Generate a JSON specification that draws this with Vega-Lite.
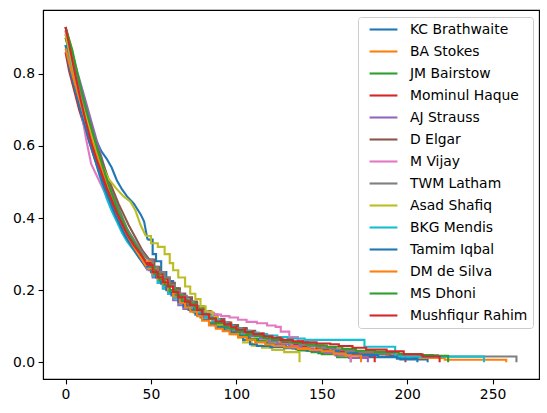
{
  "$schema": "https://vega.github.io/schema/vega-lite/v6.json",
  "width": 496,
  "height": 369,
  "autosize": "none",
  "padding": {"left": 43, "top": 10, "right": 8, "bottom": 34},
  "background": "white",
  "data": {
    "values": [
      {"p":"KC Brathwaite","x":0,"y":0.91},{"p":"KC Brathwaite","x":3,"y":0.86},{"p":"KC Brathwaite","x":6,"y":0.8},{"p":"KC Brathwaite","x":9,"y":0.75},{"p":"KC Brathwaite","x":12,"y":0.7},{"p":"KC Brathwaite","x":15,"y":0.655},{"p":"KC Brathwaite","x":18,"y":0.615},{"p":"KC Brathwaite","x":21,"y":0.585},{"p":"KC Brathwaite","x":24,"y":0.565},{"p":"KC Brathwaite","x":27,"y":0.54},{"p":"KC Brathwaite","x":30,"y":0.505},{"p":"KC Brathwaite","x":33,"y":0.48},{"p":"KC Brathwaite","x":36,"y":0.46},{"p":"KC Brathwaite","x":40,"y":0.44},{"p":"KC Brathwaite","x":44,"y":0.41},{"p":"KC Brathwaite","x":46,"y":0.39},{"p":"KC Brathwaite","x":48,"y":0.34},
      {"p":"KC Brathwaite","x":51,"y":0.3},{"p":"KC Brathwaite","x":53,"y":0.28},{"p":"KC Brathwaite","x":56,"y":0.25},{"p":"KC Brathwaite","x":59,"y":0.225},{"p":"KC Brathwaite","x":63,"y":0.205},{"p":"KC Brathwaite","x":66,"y":0.19},{"p":"KC Brathwaite","x":70,"y":0.175},{"p":"KC Brathwaite","x":73,"y":0.165},{"p":"KC Brathwaite","x":77,"y":0.15},{"p":"KC Brathwaite","x":81,"y":0.135},{"p":"KC Brathwaite","x":84,"y":0.12},{"p":"KC Brathwaite","x":88,"y":0.105},{"p":"KC Brathwaite","x":93,"y":0.095},{"p":"KC Brathwaite","x":97,"y":0.085},{"p":"KC Brathwaite","x":102,"y":0.075},{"p":"KC Brathwaite","x":107,"y":0.065},{"p":"KC Brathwaite","x":113,"y":0.058},{"p":"KC Brathwaite","x":118,"y":0.05},{"p":"KC Brathwaite","x":126,"y":0.043},{"p":"KC Brathwaite","x":133,"y":0.038},{"p":"KC Brathwaite","x":141,"y":0.032},{"p":"KC Brathwaite","x":148,"y":0.025},{"p":"KC Brathwaite","x":163,"y":0.02},{"p":"KC Brathwaite","x":178,"y":0.014},{"p":"KC Brathwaite","x":196,"y":0.008},{"p":"KC Brathwaite","x":212,"y":0},

      {"p":"BA Stokes","x":0,"y":0.92},{"p":"BA Stokes","x":2,"y":0.85},{"p":"BA Stokes","x":5,"y":0.79},{"p":"BA Stokes","x":8,"y":0.73},{"p":"BA Stokes","x":11,"y":0.68},{"p":"BA Stokes","x":14,"y":0.63},{"p":"BA Stokes","x":17,"y":0.585},{"p":"BA Stokes","x":20,"y":0.545},{"p":"BA Stokes","x":23,"y":0.505},{"p":"BA Stokes","x":26,"y":0.47},{"p":"BA Stokes","x":29,"y":0.44},{"p":"BA Stokes","x":32,"y":0.405},{"p":"BA Stokes","x":35,"y":0.375},{"p":"BA Stokes","x":39,"y":0.34},{"p":"BA Stokes","x":43,"y":0.305},{"p":"BA Stokes","x":47,"y":0.28},
      {"p":"BA Stokes","x":50,"y":0.26},{"p":"BA Stokes","x":54,"y":0.24},{"p":"BA Stokes","x":57,"y":0.225},{"p":"BA Stokes","x":60,"y":0.21},{"p":"BA Stokes","x":63,"y":0.19},{"p":"BA Stokes","x":66,"y":0.175},{"p":"BA Stokes","x":70,"y":0.165},{"p":"BA Stokes","x":74,"y":0.15},{"p":"BA Stokes","x":78,"y":0.135},{"p":"BA Stokes","x":83,"y":0.125},{"p":"BA Stokes","x":87,"y":0.115},{"p":"BA Stokes","x":92,"y":0.105},{"p":"BA Stokes","x":96,"y":0.098},{"p":"BA Stokes","x":101,"y":0.09},{"p":"BA Stokes","x":104,"y":0.082},{"p":"BA Stokes","x":109,"y":0.075},{"p":"BA Stokes","x":114,"y":0.068},{"p":"BA Stokes","x":118,"y":0.06},{"p":"BA Stokes","x":124,"y":0.055},{"p":"BA Stokes","x":131,"y":0.05},{"p":"BA Stokes","x":137,"y":0.042},{"p":"BA Stokes","x":143,"y":0.037},{"p":"BA Stokes","x":152,"y":0.033},{"p":"BA Stokes","x":158,"y":0.03},{"p":"BA Stokes","x":168,"y":0.026},{"p":"BA Stokes","x":176,"y":0.022},{"p":"BA Stokes","x":188,"y":0.018},{"p":"BA Stokes","x":203,"y":0.012},{"p":"BA Stokes","x":222,"y":0.007},{"p":"BA Stokes","x":258,"y":0},

      {"p":"JM Bairstow","x":0,"y":0.9},{"p":"JM Bairstow","x":3,"y":0.845},{"p":"JM Bairstow","x":6,"y":0.79},{"p":"JM Bairstow","x":9,"y":0.74},{"p":"JM Bairstow","x":12,"y":0.69},{"p":"JM Bairstow","x":15,"y":0.64},{"p":"JM Bairstow","x":18,"y":0.6},{"p":"JM Bairstow","x":21,"y":0.555},{"p":"JM Bairstow","x":24,"y":0.515},{"p":"JM Bairstow","x":27,"y":0.475},{"p":"JM Bairstow","x":30,"y":0.44},{"p":"JM Bairstow","x":33,"y":0.405},{"p":"JM Bairstow","x":36,"y":0.37},{"p":"JM Bairstow","x":40,"y":0.335},{"p":"JM Bairstow","x":44,"y":0.295},{"p":"JM Bairstow","x":48,"y":0.26},
      {"p":"JM Bairstow","x":51,"y":0.24},{"p":"JM Bairstow","x":55,"y":0.22},{"p":"JM Bairstow","x":58,"y":0.205},{"p":"JM Bairstow","x":61,"y":0.195},{"p":"JM Bairstow","x":65,"y":0.18},{"p":"JM Bairstow","x":68,"y":0.165},{"p":"JM Bairstow","x":71,"y":0.152},{"p":"JM Bairstow","x":75,"y":0.138},{"p":"JM Bairstow","x":79,"y":0.124},{"p":"JM Bairstow","x":84,"y":0.11},{"p":"JM Bairstow","x":88,"y":0.1},{"p":"JM Bairstow","x":93,"y":0.09},{"p":"JM Bairstow","x":97,"y":0.082},{"p":"JM Bairstow","x":102,"y":0.074},{"p":"JM Bairstow","x":108,"y":0.065},{"p":"JM Bairstow","x":112,"y":0.058},{"p":"JM Bairstow","x":117,"y":0.052},{"p":"JM Bairstow","x":122,"y":0.047},{"p":"JM Bairstow","x":129,"y":0.04},{"p":"JM Bairstow","x":136,"y":0.033},{"p":"JM Bairstow","x":144,"y":0.028},{"p":"JM Bairstow","x":150,"y":0.022},{"p":"JM Bairstow","x":159,"y":0.014},{"p":"JM Bairstow","x":167,"y":0},

      {"p":"Mominul Haque","x":0,"y":0.86},{"p":"Mominul Haque","x":2,"y":0.81},{"p":"Mominul Haque","x":5,"y":0.755},{"p":"Mominul Haque","x":8,"y":0.7},{"p":"Mominul Haque","x":11,"y":0.655},{"p":"Mominul Haque","x":14,"y":0.61},{"p":"Mominul Haque","x":17,"y":0.565},{"p":"Mominul Haque","x":20,"y":0.525},{"p":"Mominul Haque","x":23,"y":0.49},{"p":"Mominul Haque","x":26,"y":0.455},{"p":"Mominul Haque","x":29,"y":0.42},{"p":"Mominul Haque","x":32,"y":0.39},{"p":"Mominul Haque","x":35,"y":0.36},{"p":"Mominul Haque","x":39,"y":0.33},{"p":"Mominul Haque","x":43,"y":0.3},{"p":"Mominul Haque","x":47,"y":0.275},
      {"p":"Mominul Haque","x":50,"y":0.255},{"p":"Mominul Haque","x":53,"y":0.245},{"p":"Mominul Haque","x":57,"y":0.232},{"p":"Mominul Haque","x":60,"y":0.215},{"p":"Mominul Haque","x":63,"y":0.195},{"p":"Mominul Haque","x":66,"y":0.178},{"p":"Mominul Haque","x":70,"y":0.16},{"p":"Mominul Haque","x":73,"y":0.152},{"p":"Mominul Haque","x":77,"y":0.145},{"p":"Mominul Haque","x":80,"y":0.135},{"p":"Mominul Haque","x":83,"y":0.127},{"p":"Mominul Haque","x":88,"y":0.118},{"p":"Mominul Haque","x":92,"y":0.11},{"p":"Mominul Haque","x":96,"y":0.1},{"p":"Mominul Haque","x":100,"y":0.093},{"p":"Mominul Haque","x":106,"y":0.085},{"p":"Mominul Haque","x":111,"y":0.077},{"p":"Mominul Haque","x":115,"y":0.07},{"p":"Mominul Haque","x":121,"y":0.063},{"p":"Mominul Haque","x":127,"y":0.056},{"p":"Mominul Haque","x":134,"y":0.05},{"p":"Mominul Haque","x":139,"y":0.045},{"p":"Mominul Haque","x":147,"y":0.037},{"p":"Mominul Haque","x":155,"y":0.03},{"p":"Mominul Haque","x":163,"y":0.024},{"p":"Mominul Haque","x":172,"y":0.018},{"p":"Mominul Haque","x":181,"y":0},

      {"p":"AJ Strauss","x":0,"y":0.93},{"p":"AJ Strauss","x":3,"y":0.875},{"p":"AJ Strauss","x":6,"y":0.82},{"p":"AJ Strauss","x":9,"y":0.77},{"p":"AJ Strauss","x":12,"y":0.72},{"p":"AJ Strauss","x":15,"y":0.67},{"p":"AJ Strauss","x":18,"y":0.62},{"p":"AJ Strauss","x":21,"y":0.57},{"p":"AJ Strauss","x":24,"y":0.52},{"p":"AJ Strauss","x":27,"y":0.475},{"p":"AJ Strauss","x":30,"y":0.43},{"p":"AJ Strauss","x":33,"y":0.395},{"p":"AJ Strauss","x":36,"y":0.36},{"p":"AJ Strauss","x":40,"y":0.32},{"p":"AJ Strauss","x":44,"y":0.285},{"p":"AJ Strauss","x":48,"y":0.255},
      {"p":"AJ Strauss","x":51,"y":0.235},{"p":"AJ Strauss","x":54,"y":0.22},{"p":"AJ Strauss","x":57,"y":0.205},{"p":"AJ Strauss","x":60,"y":0.19},{"p":"AJ Strauss","x":63,"y":0.172},{"p":"AJ Strauss","x":66,"y":0.158},{"p":"AJ Strauss","x":69,"y":0.148},{"p":"AJ Strauss","x":73,"y":0.142},{"p":"AJ Strauss","x":77,"y":0.135},{"p":"AJ Strauss","x":81,"y":0.125},{"p":"AJ Strauss","x":86,"y":0.115},{"p":"AJ Strauss","x":89,"y":0.108},{"p":"AJ Strauss","x":93,"y":0.1},{"p":"AJ Strauss","x":98,"y":0.09},{"p":"AJ Strauss","x":103,"y":0.082},{"p":"AJ Strauss","x":108,"y":0.073},{"p":"AJ Strauss","x":114,"y":0.065},{"p":"AJ Strauss","x":119,"y":0.057},{"p":"AJ Strauss","x":124,"y":0.05},{"p":"AJ Strauss","x":131,"y":0.044},{"p":"AJ Strauss","x":138,"y":0.037},{"p":"AJ Strauss","x":145,"y":0.031},{"p":"AJ Strauss","x":152,"y":0.026},{"p":"AJ Strauss","x":158,"y":0.019},{"p":"AJ Strauss","x":166,"y":0.012},{"p":"AJ Strauss","x":177,"y":0},

      {"p":"D Elgar","x":0,"y":0.9},{"p":"D Elgar","x":4,"y":0.845},{"p":"D Elgar","x":7,"y":0.79},{"p":"D Elgar","x":10,"y":0.735},{"p":"D Elgar","x":13,"y":0.685},{"p":"D Elgar","x":16,"y":0.635},{"p":"D Elgar","x":19,"y":0.59},{"p":"D Elgar","x":22,"y":0.55},{"p":"D Elgar","x":25,"y":0.51},{"p":"D Elgar","x":28,"y":0.475},{"p":"D Elgar","x":31,"y":0.44},{"p":"D Elgar","x":34,"y":0.41},{"p":"D Elgar","x":37,"y":0.38},{"p":"D Elgar","x":41,"y":0.345},{"p":"D Elgar","x":45,"y":0.31},{"p":"D Elgar","x":49,"y":0.285},
      {"p":"D Elgar","x":52,"y":0.265},{"p":"D Elgar","x":55,"y":0.248},{"p":"D Elgar","x":58,"y":0.235},{"p":"D Elgar","x":61,"y":0.22},{"p":"D Elgar","x":64,"y":0.205},{"p":"D Elgar","x":67,"y":0.19},{"p":"D Elgar","x":70,"y":0.18},{"p":"D Elgar","x":74,"y":0.168},{"p":"D Elgar","x":77,"y":0.155},{"p":"D Elgar","x":81,"y":0.142},{"p":"D Elgar","x":85,"y":0.132},{"p":"D Elgar","x":89,"y":0.12},{"p":"D Elgar","x":93,"y":0.11},{"p":"D Elgar","x":97,"y":0.103},{"p":"D Elgar","x":101,"y":0.095},{"p":"D Elgar","x":106,"y":0.087},{"p":"D Elgar","x":111,"y":0.08},{"p":"D Elgar","x":116,"y":0.073},{"p":"D Elgar","x":121,"y":0.067},{"p":"D Elgar","x":127,"y":0.06},{"p":"D Elgar","x":133,"y":0.056},{"p":"D Elgar","x":138,"y":0.05},{"p":"D Elgar","x":143,"y":0.046},{"p":"D Elgar","x":151,"y":0.04},{"p":"D Elgar","x":158,"y":0.035},{"p":"D Elgar","x":166,"y":0.03},{"p":"D Elgar","x":173,"y":0.026},{"p":"D Elgar","x":182,"y":0.022},{"p":"D Elgar","x":190,"y":0.018},{"p":"D Elgar","x":199,"y":0},

      {"p":"M Vijay","x":0,"y":0.92},{"p":"M Vijay","x":3,"y":0.84},{"p":"M Vijay","x":6,"y":0.77},{"p":"M Vijay","x":9,"y":0.7},{"p":"M Vijay","x":12,"y":0.62},{"p":"M Vijay","x":15,"y":0.55},{"p":"M Vijay","x":18,"y":0.52},{"p":"M Vijay","x":21,"y":0.49},{"p":"M Vijay","x":24,"y":0.46},{"p":"M Vijay","x":27,"y":0.43},{"p":"M Vijay","x":30,"y":0.4},{"p":"M Vijay","x":33,"y":0.37},{"p":"M Vijay","x":36,"y":0.345},{"p":"M Vijay","x":40,"y":0.315},{"p":"M Vijay","x":44,"y":0.29},{"p":"M Vijay","x":48,"y":0.265},
      {"p":"M Vijay","x":51,"y":0.248},{"p":"M Vijay","x":55,"y":0.228},{"p":"M Vijay","x":58,"y":0.212},{"p":"M Vijay","x":61,"y":0.2},{"p":"M Vijay","x":65,"y":0.188},{"p":"M Vijay","x":68,"y":0.175},{"p":"M Vijay","x":72,"y":0.16},{"p":"M Vijay","x":76,"y":0.15},{"p":"M Vijay","x":79,"y":0.142},{"p":"M Vijay","x":83,"y":0.137},{"p":"M Vijay","x":87,"y":0.132},{"p":"M Vijay","x":91,"y":0.128},{"p":"M Vijay","x":96,"y":0.124},{"p":"M Vijay","x":101,"y":0.118},{"p":"M Vijay","x":106,"y":0.112},{"p":"M Vijay","x":112,"y":0.108},{"p":"M Vijay","x":118,"y":0.102},{"p":"M Vijay","x":123,"y":0.098},{"p":"M Vijay","x":126,"y":0.085},{"p":"M Vijay","x":131,"y":0.07},{"p":"M Vijay","x":136,"y":0.06},{"p":"M Vijay","x":142,"y":0.05},{"p":"M Vijay","x":148,"y":0.042},{"p":"M Vijay","x":155,"y":0.03},{"p":"M Vijay","x":160,"y":0.022},{"p":"M Vijay","x":167,"y":0},

      {"p":"TWM Latham","x":0,"y":0.93},{"p":"TWM Latham","x":3,"y":0.87},{"p":"TWM Latham","x":6,"y":0.8},{"p":"TWM Latham","x":9,"y":0.745},{"p":"TWM Latham","x":12,"y":0.69},{"p":"TWM Latham","x":15,"y":0.64},{"p":"TWM Latham","x":18,"y":0.595},{"p":"TWM Latham","x":21,"y":0.55},{"p":"TWM Latham","x":24,"y":0.51},{"p":"TWM Latham","x":27,"y":0.47},{"p":"TWM Latham","x":30,"y":0.435},{"p":"TWM Latham","x":33,"y":0.4},{"p":"TWM Latham","x":36,"y":0.37},{"p":"TWM Latham","x":40,"y":0.34},{"p":"TWM Latham","x":44,"y":0.31},{"p":"TWM Latham","x":48,"y":0.285},
      {"p":"TWM Latham","x":51,"y":0.265},{"p":"TWM Latham","x":54,"y":0.25},{"p":"TWM Latham","x":58,"y":0.235},{"p":"TWM Latham","x":61,"y":0.215},{"p":"TWM Latham","x":64,"y":0.198},{"p":"TWM Latham","x":67,"y":0.184},{"p":"TWM Latham","x":71,"y":0.168},{"p":"TWM Latham","x":75,"y":0.155},{"p":"TWM Latham","x":78,"y":0.142},{"p":"TWM Latham","x":82,"y":0.13},{"p":"TWM Latham","x":86,"y":0.12},{"p":"TWM Latham","x":90,"y":0.11},{"p":"TWM Latham","x":95,"y":0.1},{"p":"TWM Latham","x":99,"y":0.092},{"p":"TWM Latham","x":104,"y":0.085},{"p":"TWM Latham","x":109,"y":0.077},{"p":"TWM Latham","x":114,"y":0.07},{"p":"TWM Latham","x":120,"y":0.065},{"p":"TWM Latham","x":126,"y":0.059},{"p":"TWM Latham","x":131,"y":0.054},{"p":"TWM Latham","x":137,"y":0.048},{"p":"TWM Latham","x":142,"y":0.044},{"p":"TWM Latham","x":149,"y":0.039},{"p":"TWM Latham","x":156,"y":0.035},{"p":"TWM Latham","x":164,"y":0.031},{"p":"TWM Latham","x":172,"y":0.027},{"p":"TWM Latham","x":181,"y":0.024},{"p":"TWM Latham","x":193,"y":0.021},{"p":"TWM Latham","x":205,"y":0.019},{"p":"TWM Latham","x":218,"y":0.016},{"p":"TWM Latham","x":264,"y":0},

      {"p":"Asad Shafiq","x":0,"y":0.91},{"p":"Asad Shafiq","x":5,"y":0.8},{"p":"Asad Shafiq","x":10,"y":0.71},{"p":"Asad Shafiq","x":15,"y":0.63},{"p":"Asad Shafiq","x":20,"y":0.56},{"p":"Asad Shafiq","x":25,"y":0.51},{"p":"Asad Shafiq","x":30,"y":0.48},{"p":"Asad Shafiq","x":34,"y":0.46},{"p":"Asad Shafiq","x":38,"y":0.445},{"p":"Asad Shafiq","x":41,"y":0.42},{"p":"Asad Shafiq","x":44,"y":0.38},{"p":"Asad Shafiq","x":47,"y":0.35},
      {"p":"Asad Shafiq","x":50,"y":0.33},{"p":"Asad Shafiq","x":54,"y":0.32},{"p":"Asad Shafiq","x":58,"y":0.3},{"p":"Asad Shafiq","x":61,"y":0.275},{"p":"Asad Shafiq","x":63,"y":0.255},{"p":"Asad Shafiq","x":66,"y":0.235},{"p":"Asad Shafiq","x":70,"y":0.21},{"p":"Asad Shafiq","x":73,"y":0.19},{"p":"Asad Shafiq","x":76,"y":0.175},{"p":"Asad Shafiq","x":79,"y":0.155},{"p":"Asad Shafiq","x":82,"y":0.14},{"p":"Asad Shafiq","x":86,"y":0.125},{"p":"Asad Shafiq","x":89,"y":0.105},{"p":"Asad Shafiq","x":93,"y":0.09},{"p":"Asad Shafiq","x":97,"y":0.078},{"p":"Asad Shafiq","x":101,"y":0.068},{"p":"Asad Shafiq","x":104,"y":0.055},{"p":"Asad Shafiq","x":109,"y":0.046},{"p":"Asad Shafiq","x":115,"y":0.04},{"p":"Asad Shafiq","x":121,"y":0.034},{"p":"Asad Shafiq","x":128,"y":0.028},{"p":"Asad Shafiq","x":137,"y":0},

      {"p":"BKG Mendis","x":0,"y":0.88},{"p":"BKG Mendis","x":3,"y":0.82},{"p":"BKG Mendis","x":6,"y":0.76},{"p":"BKG Mendis","x":9,"y":0.7},{"p":"BKG Mendis","x":12,"y":0.65},{"p":"BKG Mendis","x":15,"y":0.6},{"p":"BKG Mendis","x":18,"y":0.55},{"p":"BKG Mendis","x":21,"y":0.5},{"p":"BKG Mendis","x":24,"y":0.455},{"p":"BKG Mendis","x":27,"y":0.42},{"p":"BKG Mendis","x":30,"y":0.39},{"p":"BKG Mendis","x":33,"y":0.36},{"p":"BKG Mendis","x":36,"y":0.335},{"p":"BKG Mendis","x":40,"y":0.31},{"p":"BKG Mendis","x":44,"y":0.285},{"p":"BKG Mendis","x":48,"y":0.26},
      {"p":"BKG Mendis","x":51,"y":0.24},{"p":"BKG Mendis","x":54,"y":0.22},{"p":"BKG Mendis","x":57,"y":0.205},{"p":"BKG Mendis","x":60,"y":0.19},{"p":"BKG Mendis","x":63,"y":0.178},{"p":"BKG Mendis","x":67,"y":0.163},{"p":"BKG Mendis","x":70,"y":0.153},{"p":"BKG Mendis","x":74,"y":0.145},{"p":"BKG Mendis","x":78,"y":0.135},{"p":"BKG Mendis","x":82,"y":0.126},{"p":"BKG Mendis","x":86,"y":0.118},{"p":"BKG Mendis","x":90,"y":0.11},{"p":"BKG Mendis","x":94,"y":0.102},{"p":"BKG Mendis","x":98,"y":0.094},{"p":"BKG Mendis","x":103,"y":0.087},{"p":"BKG Mendis","x":108,"y":0.082},{"p":"BKG Mendis","x":113,"y":0.078},{"p":"BKG Mendis","x":118,"y":0.074},{"p":"BKG Mendis","x":124,"y":0.07},{"p":"BKG Mendis","x":130,"y":0.066},{"p":"BKG Mendis","x":140,"y":0.062},{"p":"BKG Mendis","x":175,"y":0.043},{"p":"BKG Mendis","x":193,"y":0.0155},{"p":"BKG Mendis","x":245,"y":0},

      {"p":"Tamim Iqbal","x":0,"y":0.88},{"p":"Tamim Iqbal","x":2,"y":0.82},{"p":"Tamim Iqbal","x":5,"y":0.765},{"p":"Tamim Iqbal","x":8,"y":0.71},{"p":"Tamim Iqbal","x":11,"y":0.66},{"p":"Tamim Iqbal","x":14,"y":0.61},{"p":"Tamim Iqbal","x":17,"y":0.565},{"p":"Tamim Iqbal","x":20,"y":0.52},{"p":"Tamim Iqbal","x":23,"y":0.48},{"p":"Tamim Iqbal","x":26,"y":0.445},{"p":"Tamim Iqbal","x":29,"y":0.41},{"p":"Tamim Iqbal","x":32,"y":0.38},{"p":"Tamim Iqbal","x":35,"y":0.35},{"p":"Tamim Iqbal","x":39,"y":0.32},{"p":"Tamim Iqbal","x":43,"y":0.29},{"p":"Tamim Iqbal","x":47,"y":0.265},
      {"p":"Tamim Iqbal","x":50,"y":0.25},{"p":"Tamim Iqbal","x":53,"y":0.235},{"p":"Tamim Iqbal","x":56,"y":0.218},{"p":"Tamim Iqbal","x":59,"y":0.2},{"p":"Tamim Iqbal","x":62,"y":0.185},{"p":"Tamim Iqbal","x":66,"y":0.168},{"p":"Tamim Iqbal","x":69,"y":0.155},{"p":"Tamim Iqbal","x":72,"y":0.145},{"p":"Tamim Iqbal","x":76,"y":0.132},{"p":"Tamim Iqbal","x":80,"y":0.118},{"p":"Tamim Iqbal","x":84,"y":0.105},{"p":"Tamim Iqbal","x":88,"y":0.097},{"p":"Tamim Iqbal","x":93,"y":0.088},{"p":"Tamim Iqbal","x":97,"y":0.08},{"p":"Tamim Iqbal","x":101,"y":0.072},{"p":"Tamim Iqbal","x":104,"y":0.062},{"p":"Tamim Iqbal","x":108,"y":0.05},{"p":"Tamim Iqbal","x":112,"y":0.045},{"p":"Tamim Iqbal","x":120,"y":0.042},{"p":"Tamim Iqbal","x":128,"y":0.039},{"p":"Tamim Iqbal","x":135,"y":0.036},{"p":"Tamim Iqbal","x":142,"y":0.033},{"p":"Tamim Iqbal","x":151,"y":0.03},{"p":"Tamim Iqbal","x":160,"y":0.025},{"p":"Tamim Iqbal","x":171,"y":0.02},{"p":"Tamim Iqbal","x":183,"y":0.015},{"p":"Tamim Iqbal","x":194,"y":0.01},{"p":"Tamim Iqbal","x":206,"y":0},

      {"p":"DM de Silva","x":0,"y":0.87},{"p":"DM de Silva","x":3,"y":0.815},{"p":"DM de Silva","x":6,"y":0.765},{"p":"DM de Silva","x":9,"y":0.715},{"p":"DM de Silva","x":12,"y":0.665},{"p":"DM de Silva","x":15,"y":0.62},{"p":"DM de Silva","x":18,"y":0.575},{"p":"DM de Silva","x":21,"y":0.535},{"p":"DM de Silva","x":24,"y":0.495},{"p":"DM de Silva","x":27,"y":0.455},{"p":"DM de Silva","x":30,"y":0.42},{"p":"DM de Silva","x":33,"y":0.385},{"p":"DM de Silva","x":36,"y":0.355},{"p":"DM de Silva","x":40,"y":0.32},{"p":"DM de Silva","x":44,"y":0.29},{"p":"DM de Silva","x":48,"y":0.26},
      {"p":"DM de Silva","x":51,"y":0.245},{"p":"DM de Silva","x":54,"y":0.232},{"p":"DM de Silva","x":57,"y":0.218},{"p":"DM de Silva","x":60,"y":0.2},{"p":"DM de Silva","x":63,"y":0.183},{"p":"DM de Silva","x":67,"y":0.165},{"p":"DM de Silva","x":70,"y":0.152},{"p":"DM de Silva","x":73,"y":0.14},{"p":"DM de Silva","x":77,"y":0.128},{"p":"DM de Silva","x":80,"y":0.115},{"p":"DM de Silva","x":84,"y":0.102},{"p":"DM de Silva","x":88,"y":0.093},{"p":"DM de Silva","x":92,"y":0.086},{"p":"DM de Silva","x":96,"y":0.078},{"p":"DM de Silva","x":101,"y":0.07},{"p":"DM de Silva","x":106,"y":0.062},{"p":"DM de Silva","x":111,"y":0.055},{"p":"DM de Silva","x":117,"y":0.049},{"p":"DM de Silva","x":122,"y":0.045},{"p":"DM de Silva","x":128,"y":0.041},{"p":"DM de Silva","x":136,"y":0.037},{"p":"DM de Silva","x":143,"y":0.034},{"p":"DM de Silva","x":150,"y":0.03},{"p":"DM de Silva","x":157,"y":0.024},{"p":"DM de Silva","x":164,"y":0.018},{"p":"DM de Silva","x":173,"y":0},

      {"p":"MS Dhoni","x":0,"y":0.93},{"p":"MS Dhoni","x":4,"y":0.865},{"p":"MS Dhoni","x":7,"y":0.8},{"p":"MS Dhoni","x":10,"y":0.74},{"p":"MS Dhoni","x":13,"y":0.685},{"p":"MS Dhoni","x":16,"y":0.635},{"p":"MS Dhoni","x":19,"y":0.585},{"p":"MS Dhoni","x":22,"y":0.54},{"p":"MS Dhoni","x":25,"y":0.495},{"p":"MS Dhoni","x":28,"y":0.455},{"p":"MS Dhoni","x":31,"y":0.415},{"p":"MS Dhoni","x":34,"y":0.385},{"p":"MS Dhoni","x":37,"y":0.355},{"p":"MS Dhoni","x":41,"y":0.325},{"p":"MS Dhoni","x":45,"y":0.295},{"p":"MS Dhoni","x":49,"y":0.265},
      {"p":"MS Dhoni","x":52,"y":0.245},{"p":"MS Dhoni","x":55,"y":0.228},{"p":"MS Dhoni","x":58,"y":0.215},{"p":"MS Dhoni","x":61,"y":0.2},{"p":"MS Dhoni","x":65,"y":0.185},{"p":"MS Dhoni","x":68,"y":0.172},{"p":"MS Dhoni","x":72,"y":0.162},{"p":"MS Dhoni","x":76,"y":0.148},{"p":"MS Dhoni","x":80,"y":0.133},{"p":"MS Dhoni","x":84,"y":0.12},{"p":"MS Dhoni","x":88,"y":0.108},{"p":"MS Dhoni","x":93,"y":0.1},{"p":"MS Dhoni","x":97,"y":0.093},{"p":"MS Dhoni","x":101,"y":0.085},{"p":"MS Dhoni","x":106,"y":0.078},{"p":"MS Dhoni","x":111,"y":0.072},{"p":"MS Dhoni","x":116,"y":0.067},{"p":"MS Dhoni","x":121,"y":0.062},{"p":"MS Dhoni","x":127,"y":0.058},{"p":"MS Dhoni","x":133,"y":0.054},{"p":"MS Dhoni","x":141,"y":0.05},{"p":"MS Dhoni","x":147,"y":0.046},{"p":"MS Dhoni","x":153,"y":0.043},{"p":"MS Dhoni","x":162,"y":0.037},{"p":"MS Dhoni","x":170,"y":0.032},{"p":"MS Dhoni","x":181,"y":0.028},{"p":"MS Dhoni","x":195,"y":0.023},{"p":"MS Dhoni","x":208,"y":0.02},{"p":"MS Dhoni","x":215,"y":0.018},{"p":"MS Dhoni","x":224,"y":0},

      {"p":"Mushfiqur Rahim","x":0,"y":0.93},{"p":"Mushfiqur Rahim","x":3,"y":0.86},{"p":"Mushfiqur Rahim","x":6,"y":0.79},{"p":"Mushfiqur Rahim","x":9,"y":0.725},{"p":"Mushfiqur Rahim","x":12,"y":0.665},{"p":"Mushfiqur Rahim","x":15,"y":0.61},{"p":"Mushfiqur Rahim","x":18,"y":0.565},{"p":"Mushfiqur Rahim","x":21,"y":0.525},{"p":"Mushfiqur Rahim","x":24,"y":0.485},{"p":"Mushfiqur Rahim","x":27,"y":0.45},{"p":"Mushfiqur Rahim","x":30,"y":0.415},{"p":"Mushfiqur Rahim","x":33,"y":0.385},{"p":"Mushfiqur Rahim","x":36,"y":0.355},{"p":"Mushfiqur Rahim","x":40,"y":0.325},{"p":"Mushfiqur Rahim","x":44,"y":0.3},{"p":"Mushfiqur Rahim","x":48,"y":0.27},
      {"p":"Mushfiqur Rahim","x":51,"y":0.25},{"p":"Mushfiqur Rahim","x":54,"y":0.235},{"p":"Mushfiqur Rahim","x":57,"y":0.222},{"p":"Mushfiqur Rahim","x":60,"y":0.21},{"p":"Mushfiqur Rahim","x":63,"y":0.195},{"p":"Mushfiqur Rahim","x":66,"y":0.18},{"p":"Mushfiqur Rahim","x":70,"y":0.168},{"p":"Mushfiqur Rahim","x":73,"y":0.158},{"p":"Mushfiqur Rahim","x":77,"y":0.145},{"p":"Mushfiqur Rahim","x":80,"y":0.133},{"p":"Mushfiqur Rahim","x":84,"y":0.122},{"p":"Mushfiqur Rahim","x":88,"y":0.113},{"p":"Mushfiqur Rahim","x":93,"y":0.105},{"p":"Mushfiqur Rahim","x":97,"y":0.097},{"p":"Mushfiqur Rahim","x":100,"y":0.09},{"p":"Mushfiqur Rahim","x":105,"y":0.084},{"p":"Mushfiqur Rahim","x":110,"y":0.078},{"p":"Mushfiqur Rahim","x":116,"y":0.072},{"p":"Mushfiqur Rahim","x":121,"y":0.068},{"p":"Mushfiqur Rahim","x":126,"y":0.062},{"p":"Mushfiqur Rahim","x":133,"y":0.058},{"p":"Mushfiqur Rahim","x":139,"y":0.055},{"p":"Mushfiqur Rahim","x":147,"y":0.052},{"p":"Mushfiqur Rahim","x":155,"y":0.05},{"p":"Mushfiqur Rahim","x":160,"y":0.045},{"p":"Mushfiqur Rahim","x":168,"y":0.04},{"p":"Mushfiqur Rahim","x":176,"y":0.035},{"p":"Mushfiqur Rahim","x":188,"y":0.03},{"p":"Mushfiqur Rahim","x":198,"y":0.022},{"p":"Mushfiqur Rahim","x":209,"y":0.016},{"p":"Mushfiqur Rahim","x":219,"y":0}
    ]
  },
  "encoding": {
    "x": {
      "field": "x",
      "type": "quantitative",
      "scale": {"domain": [-13.2, 277.2], "nice": false, "zero": false},
      "axis": {"values": [0, 50, 100, 150, 200, 250], "title": null}
    },
    "y": {
      "field": "y",
      "type": "quantitative",
      "scale": {"domain": [-0.0465, 0.977], "nice": false, "zero": false},
      "axis": {"values": [0, 0.2, 0.4, 0.6, 0.8], "format": ".1f", "title": null}
    },
    "color": {
      "field": "p",
      "type": "nominal",
      "title": null,
      "scale": {
        "domain": ["KC Brathwaite", "BA Stokes", "JM Bairstow", "Mominul Haque", "AJ Strauss", "D Elgar", "M Vijay", "TWM Latham", "Asad Shafiq", "BKG Mendis", "Tamim Iqbal", "DM de Silva", "MS Dhoni", "Mushfiqur Rahim"],
        "range": ["#1f77b4", "#ff7f0e", "#2ca02c", "#d62728", "#9467bd", "#8c564b", "#e377c2", "#7f7f7f", "#bcbd22", "#17becf", "#1f77b4", "#ff7f0e", "#2ca02c", "#d62728"]
      },
      "legend": {
        "orient": "none",
        "legendX": 315,
        "legendY": 7,
        "symbolType": "M-2.32,0H2.32",
        "symbolSize": 144,
        "symbolStrokeWidth": 2.1,
        "symbolOffset": 13,
        "labelOffset": 19,
        "rowPadding": 7,
        "padding": 5,
        "fillColor": "white",
        "strokeColor": "#cccccc",
        "cornerRadius": 3,
        "labelFont": "DejaVu Sans",
        "labelFontSize": 13.9,
        "labelColor": "black",
        "labelLimit": 300
      }
    }
  },
  "layer": [
    {
      "transform": [{"filter": "datum.x <= 49"}],
      "mark": {"type": "line", "interpolate": "linear", "strokeWidth": 2.1}
    },
    {
      "transform": [{"filter": "datum.x >= 47"}],
      "mark": {"type": "line", "interpolate": "step-after", "strokeWidth": 2.1}
    }
  ],
  "config": {
    "view": {"stroke": "black", "strokeWidth": 1.1},
    "axis": {
      "grid": false,
      "domainColor": "black",
      "domainWidth": 1.1,
      "tickColor": "black",
      "tickWidth": 1.1,
      "tickSize": 4.9,
      "labelFont": "DejaVu Sans",
      "labelFontSize": 13.9,
      "labelColor": "black",
      "labelPadding": 3.5
    }
  }
}
